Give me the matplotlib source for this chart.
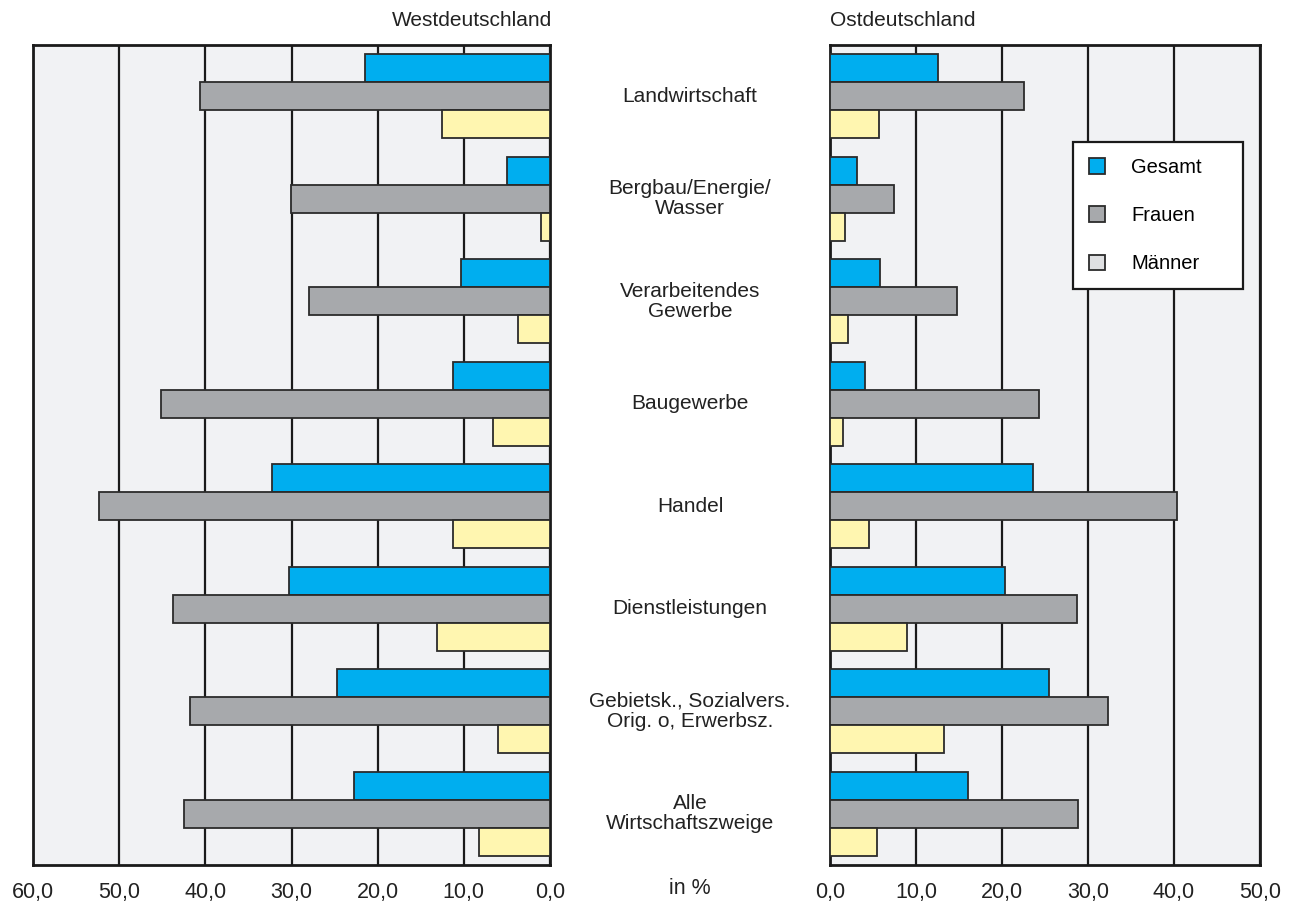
import numpy as np
import matplotlib.pyplot as plt
from matplotlib.patches import Patch

plt.rcParams['font.family'] = ['Liberation Sans', 'DejaVu Sans']

# Daten (Anteile in %)
branchen = ['Landwirtschaft', 'Bergbau/Energie/\nWasser', 'Verarbeitendes\nGewerbe',
            'Baugewerbe', 'Handel', 'Dienstleistungen',
            'Gebietsk., Sozialvers.\nOrig. o, Erwerbsz.', 'Alle\nWirtschaftszweige']

west_gesamt = [21.5, 5.0, 10.3, 11.3, 32.3, 30.3, 24.7, 22.7]
west_frauen = [40.6, 30.1, 28.0, 45.1, 52.3, 43.8, 41.8, 42.5]
west_maenner = [12.5, 1.0, 3.7, 6.6, 11.3, 13.1, 6.0, 8.2]

ost_gesamt = [12.6, 3.1, 5.8, 4.1, 23.6, 20.3, 25.5, 16.0]
ost_frauen = [22.6, 7.4, 14.8, 24.3, 40.3, 28.7, 32.3, 28.8]
ost_maenner = [5.7, 1.7, 2.1, 1.5, 4.5, 9.0, 13.3, 5.5]

west_ticks = [60, 50, 40, 30, 20, 10, 0]
ost_ticks = [0, 10, 20, 30, 40, 50]

c_gesamt = '#00aeef'
c_frauen = '#a7a9ac'
c_maenner = '#fff6b0'
c_bg = '#f1f2f4'
c_edge = '#2b2b2b'
c_text = '#222222'

fig = plt.figure(figsize=(12.94, 9.05), dpi=100)
ax_w = fig.add_axes([33 / 1294, 40 / 905, 517 / 1294, 820 / 905])
ax_o = fig.add_axes([830 / 1294, 40 / 905, 430 / 1294, 820 / 905])

y = np.arange(len(branchen))
h = 0.273


def panel(ax, ges, fra, mae, ticks, xlim):
    ax.set_facecolor(c_bg)
    for t in ticks:
        ax.axvline(t, color='#1a1a1a', lw=1.6, zorder=1)
    ax.barh(y - h, ges, height=h, color=c_gesamt, edgecolor=c_edge, lw=1.3, zorder=3)
    ax.barh(y, fra, height=h, color=c_frauen, edgecolor=c_edge, lw=1.3, zorder=3)
    ax.barh(y + h, mae, height=h, color=c_maenner, edgecolor=c_edge, lw=1.3, zorder=3)
    ax.set_xlim(*xlim)
    ax.set_ylim(len(branchen) - 0.5, -0.5)
    ax.set_yticks([])
    ax.set_xticks(ticks)
    ax.set_xticklabels([f'{t},0' for t in ticks], fontsize=15.5, color=c_text)
    ax.tick_params(axis='x', length=0, pad=12)
    for s in ax.spines.values():
        s.set_linewidth(2)
        s.set_color('#1a1a1a')


panel(ax_w, west_gesamt, west_frauen, west_maenner, west_ticks, (60, 0))
panel(ax_o, ost_gesamt, ost_frauen, ost_maenner, ost_ticks, (0, 50))

# Kategorienamen in der Mitte
mid_x = 690 / 1294
for i, name in enumerate(branchen):
    yy = ax_w.transData.transform((0, i))[1]
    fy = fig.transFigure.inverted().transform((0, yy))[1]
    fig.text(mid_x, fy, name, ha='center', va='center', fontsize=15,
             color=c_text, linespacing=1.05)

fig.text(552 / 1294, 1 - 21 / 905, 'Westdeutschland', ha='right', va='center',
         fontsize=15, color=c_text)
fig.text(830 / 1294, 1 - 21 / 905, 'Ostdeutschland', ha='left', va='center',
         fontsize=15, color=c_text)
fig.text(mid_x, 1 - 888 / 905, 'in %', ha='center', va='center', fontsize=15.5,
         color=c_text)

handles = [Patch(facecolor=c_gesamt, edgecolor=c_edge, lw=1.3),
           Patch(facecolor=c_frauen, edgecolor=c_edge, lw=1.3),
           Patch(facecolor='#dfe0e2', edgecolor=c_edge, lw=1.3)]
leg = ax_o.legend(handles, ['Gesamt', 'Frauen', 'Männer'], loc='upper left',
                  bbox_to_anchor=(0.565, 0.3, 0.395, 0.582), mode='expand',
                  fontsize=14.5, frameon=True, fancybox=False,
                  edgecolor='#1a1a1a', framealpha=1,
                  handlelength=0.8, handleheight=0.8, handletextpad=1.3,
                  labelspacing=1.45, borderpad=0.8, borderaxespad=0)
leg.get_frame().set_linewidth(1.6)
leg.set_zorder(5)

fig.savefig('out.png', dpi=100)
